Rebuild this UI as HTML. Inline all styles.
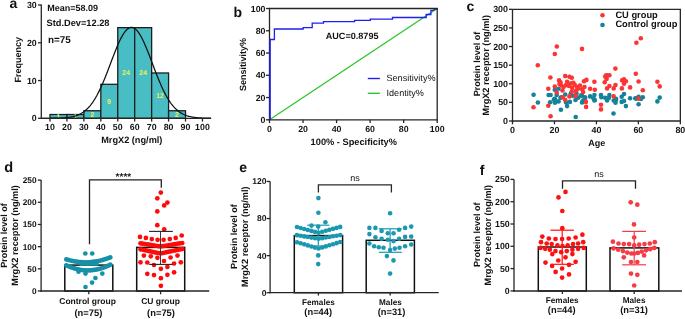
<!DOCTYPE html>
<html><head><meta charset="utf-8"><style>
html,body{margin:0;padding:0;background:#fff;}
body{width:685px;height:319px;overflow:hidden;}
svg{display:block;font-family:"Liberation Sans", sans-serif;text-rendering:geometricPrecision;filter:blur(0.3px);}
</style></head><body>
<svg width="685" height="319" viewBox="0 0 685 319">
<g filter="url(#nf)">
<defs><filter id="nf" x="0" y="0" width="1" height="1"><feOffset dx="0" dy="0"/></filter></defs>
<rect width="685" height="319" fill="#fff"/>
<rect x="50.00" y="114.52" width="16.94" height="3.78" fill="#48BEC4" stroke="#1e1e1e" stroke-width="1.3"/>
<rect x="66.94" y="114.52" width="16.94" height="3.78" fill="#48BEC4" stroke="#1e1e1e" stroke-width="1.3"/>
<rect x="83.88" y="110.75" width="16.94" height="7.55" fill="#48BEC4" stroke="#1e1e1e" stroke-width="1.3"/>
<rect x="100.82" y="84.31" width="16.94" height="33.99" fill="#48BEC4" stroke="#1e1e1e" stroke-width="1.3"/>
<rect x="117.76" y="27.65" width="16.94" height="90.65" fill="#48BEC4" stroke="#1e1e1e" stroke-width="1.3"/>
<rect x="134.70" y="27.65" width="16.94" height="90.65" fill="#48BEC4" stroke="#1e1e1e" stroke-width="1.3"/>
<rect x="151.64" y="72.98" width="16.94" height="45.32" fill="#48BEC4" stroke="#1e1e1e" stroke-width="1.3"/>
<rect x="168.58" y="110.75" width="16.94" height="7.55" fill="#48BEC4" stroke="#1e1e1e" stroke-width="1.3"/>
<text x="58.47" y="118.91" font-size="7" font-weight="bold" text-anchor="middle" fill="#F0F05A">1</text>
<text x="75.41" y="118.91" font-size="7" font-weight="bold" text-anchor="middle" fill="#F0F05A">1</text>
<text x="92.35" y="117.02" font-size="7" font-weight="bold" text-anchor="middle" fill="#F0F05A">2</text>
<text x="109.29" y="103.80" font-size="7" font-weight="bold" text-anchor="middle" fill="#F0F05A">9</text>
<text x="126.23" y="75.48" font-size="7" font-weight="bold" text-anchor="middle" fill="#F0F05A">24</text>
<text x="143.17" y="75.48" font-size="7" font-weight="bold" text-anchor="middle" fill="#F0F05A">24</text>
<text x="160.11" y="98.14" font-size="7" font-weight="bold" text-anchor="middle" fill="#F0F05A">12</text>
<text x="177.05" y="117.02" font-size="7" font-weight="bold" text-anchor="middle" fill="#F0F05A">2</text>
<polyline points="41.53,118.29 42.38,118.29 43.22,118.29 44.07,118.29 44.92,118.28 45.77,118.28 46.61,118.28 47.46,118.27 48.31,118.27 49.15,118.26 50.00,118.26 50.85,118.25 51.69,118.24 52.54,118.23 53.39,118.22 54.23,118.21 55.08,118.19 55.93,118.18 56.78,118.16 57.62,118.13 58.47,118.11 59.32,118.08 60.16,118.04 61.01,118.01 61.86,117.96 62.70,117.91 63.55,117.86 64.40,117.80 65.25,117.73 66.09,117.65 66.94,117.56 67.79,117.46 68.63,117.35 69.48,117.23 70.33,117.09 71.17,116.94 72.02,116.77 72.87,116.58 73.72,116.37 74.56,116.14 75.41,115.89 76.26,115.61 77.10,115.31 77.95,114.98 78.80,114.61 79.64,114.21 80.49,113.78 81.34,113.31 82.19,112.80 83.03,112.25 83.88,111.66 84.73,111.01 85.57,110.32 86.42,109.58 87.27,108.78 88.12,107.93 88.96,107.02 89.81,106.05 90.66,105.03 91.50,103.93 92.35,102.78 93.20,101.56 94.04,100.27 94.89,98.92 95.74,97.49 96.59,96.01 97.43,94.45 98.28,92.83 99.13,91.14 99.97,89.39 100.82,87.58 101.67,85.71 102.51,83.78 103.36,81.79 104.21,79.76 105.06,77.68 105.90,75.57 106.75,73.41 107.60,71.22 108.44,69.01 109.29,66.78 110.14,64.54 110.98,62.30 111.83,60.06 112.68,57.82 113.53,55.61 114.37,53.43 115.22,51.27 116.07,49.17 116.91,47.11 117.76,45.11 118.61,43.19 119.45,41.34 120.30,39.57 121.15,37.90 122.00,36.33 122.84,34.86 123.69,33.51 124.54,32.28 125.38,31.18 126.23,30.21 127.08,29.38 127.92,28.68 128.77,28.14 129.62,27.73 130.47,27.48 131.31,27.38 132.16,27.43 133.01,27.63 133.85,27.97 134.70,28.47 135.55,29.11 136.39,29.89 137.24,30.82 138.09,31.87 138.94,33.05 139.78,34.36 140.63,35.79 141.48,37.32 142.32,38.96 143.17,40.69 144.02,42.51 144.86,44.41 145.71,46.38 146.56,48.42 147.41,50.51 148.25,52.65 149.10,54.82 149.95,57.03 150.79,59.25 151.64,61.49 152.49,63.74 153.33,65.98 154.18,68.21 155.03,70.43 155.88,72.63 156.72,74.79 157.57,76.93 158.42,79.02 159.26,81.07 160.11,83.07 160.96,85.02 161.80,86.91 162.65,88.75 163.50,90.52 164.34,92.23 165.19,93.87 166.04,95.45 166.89,96.97 167.73,98.41 168.58,99.79 169.43,101.10 170.27,102.35 171.12,103.53 171.97,104.64 172.81,105.69 173.66,106.68 174.51,107.61 175.36,108.48 176.20,109.30 177.05,110.06 177.90,110.77 178.74,111.43 179.59,112.04 180.44,112.61 181.28,113.13 182.13,113.62 182.98,114.06 183.83,114.47 184.67,114.85 185.52,115.19 186.37,115.51 187.21,115.79 188.06,116.05 188.91,116.29 189.75,116.51 190.60,116.70 191.45,116.88 192.30,117.04 193.14,117.18 193.99,117.31 194.84,117.42 195.68,117.53 196.53,117.62 197.38,117.70 198.22,117.77 199.07,117.84 199.92,117.90 200.77,117.95 201.61,117.99 202.46,118.03 203.31,118.07 204.15,118.10 205.00,118.12 205.85,118.15 206.69,118.17 207.54,118.19 208.39,118.20 209.24,118.22 210.08,118.23 210.93,118.24" fill="none" stroke="#111" stroke-width="1.25"/>
<line x1="41.30" y1="4.60" x2="41.30" y2="118.95" stroke="#262626" stroke-width="1.3"/>
<line x1="40.65" y1="118.30" x2="211.20" y2="118.30" stroke="#262626" stroke-width="1.3"/>
<line x1="38.00" y1="118.30" x2="41.30" y2="118.30" stroke="#262626" stroke-width="1.3"/>
<text x="36.70" y="121.30" font-size="8.8" font-weight="bold" text-anchor="end" fill="#111">0</text>
<line x1="38.00" y1="80.53" x2="41.30" y2="80.53" stroke="#262626" stroke-width="1.3"/>
<text x="36.70" y="83.53" font-size="8.8" font-weight="bold" text-anchor="end" fill="#111">10</text>
<line x1="38.00" y1="42.76" x2="41.30" y2="42.76" stroke="#262626" stroke-width="1.3"/>
<text x="36.70" y="45.76" font-size="8.8" font-weight="bold" text-anchor="end" fill="#111">20</text>
<line x1="38.00" y1="4.99" x2="41.30" y2="4.99" stroke="#262626" stroke-width="1.3"/>
<text x="36.70" y="7.99" font-size="8.8" font-weight="bold" text-anchor="end" fill="#111">30</text>
<line x1="50.00" y1="118.30" x2="50.00" y2="121.60" stroke="#262626" stroke-width="1.3"/>
<text x="50.00" y="130.30" font-size="8.8" font-weight="bold" text-anchor="middle" fill="#111">10</text>
<line x1="66.94" y1="118.30" x2="66.94" y2="121.60" stroke="#262626" stroke-width="1.3"/>
<text x="66.94" y="130.30" font-size="8.8" font-weight="bold" text-anchor="middle" fill="#111">20</text>
<line x1="83.88" y1="118.30" x2="83.88" y2="121.60" stroke="#262626" stroke-width="1.3"/>
<text x="83.88" y="130.30" font-size="8.8" font-weight="bold" text-anchor="middle" fill="#111">30</text>
<line x1="100.82" y1="118.30" x2="100.82" y2="121.60" stroke="#262626" stroke-width="1.3"/>
<text x="100.82" y="130.30" font-size="8.8" font-weight="bold" text-anchor="middle" fill="#111">40</text>
<line x1="117.76" y1="118.30" x2="117.76" y2="121.60" stroke="#262626" stroke-width="1.3"/>
<text x="117.76" y="130.30" font-size="8.8" font-weight="bold" text-anchor="middle" fill="#111">50</text>
<line x1="134.70" y1="118.30" x2="134.70" y2="121.60" stroke="#262626" stroke-width="1.3"/>
<text x="134.70" y="130.30" font-size="8.8" font-weight="bold" text-anchor="middle" fill="#111">60</text>
<line x1="151.64" y1="118.30" x2="151.64" y2="121.60" stroke="#262626" stroke-width="1.3"/>
<text x="151.64" y="130.30" font-size="8.8" font-weight="bold" text-anchor="middle" fill="#111">70</text>
<line x1="168.58" y1="118.30" x2="168.58" y2="121.60" stroke="#262626" stroke-width="1.3"/>
<text x="168.58" y="130.30" font-size="8.8" font-weight="bold" text-anchor="middle" fill="#111">80</text>
<line x1="185.52" y1="118.30" x2="185.52" y2="121.60" stroke="#262626" stroke-width="1.3"/>
<text x="185.52" y="130.30" font-size="8.8" font-weight="bold" text-anchor="middle" fill="#111">90</text>
<line x1="202.46" y1="118.30" x2="202.46" y2="121.60" stroke="#262626" stroke-width="1.3"/>
<text x="202.46" y="130.30" font-size="8.8" font-weight="bold" text-anchor="middle" fill="#111">100</text>
<text x="47.30" y="10.70" font-size="9.0" font-weight="bold" text-anchor="start" fill="#111">Mean=58.09</text>
<text x="46.50" y="25.90" font-size="9.25" font-weight="bold" text-anchor="start" fill="#111">Std.Dev=12.28</text>
<text x="48.00" y="42.50" font-size="9.9" font-weight="bold" text-anchor="start" fill="#111">n=75</text>
<text x="21.00" y="59.70" font-size="9" font-weight="bold" text-anchor="middle" fill="#111" transform="rotate(-90 21.0 59.7)">Frequency</text>
<text x="131.80" y="143.20" font-size="9.2" font-weight="bold" text-anchor="middle" fill="#111">MrgX2 (ng/ml)</text>
<text x="9.50" y="8.00" font-size="14" font-weight="bold" text-anchor="start" fill="#111">a</text>
<text x="233.50" y="17.30" font-size="14" font-weight="bold" text-anchor="start" fill="#111">b</text>
<line x1="269.50" y1="119.80" x2="437.20" y2="8.50" stroke="#2CC52C" stroke-width="1.3"/>
<polyline points="269.90,119.80 269.90,39.50 274.40,39.50 274.40,29.00 303.10,29.00 303.10,27.60 312.20,27.60 312.20,23.20 323.50,23.20 323.50,21.60 354.60,21.60 354.60,20.30 370.30,20.30 370.30,19.10 392.50,19.10 392.50,17.50 426.20,17.50 426.20,14.50 430.90,14.50 430.90,10.40 433.00,10.40 437.20,8.50" fill="none" stroke="#1F1FF0" stroke-width="1.3"/>
<line x1="268.85" y1="119.80" x2="437.85" y2="119.80" stroke="#262626" stroke-width="1.3"/>
<line x1="269.50" y1="120.45" x2="269.50" y2="7.85" stroke="#262626" stroke-width="1.3"/>
<line x1="269.50" y1="8.50" x2="437.85" y2="8.50" stroke="#262626" stroke-width="1.3"/>
<line x1="437.20" y1="8.50" x2="437.20" y2="119.80" stroke="#262626" stroke-width="1.3"/>
<line x1="269.90" y1="119.80" x2="269.90" y2="39.50" stroke="#1F1FF0" stroke-width="1.4"/>
<line x1="266.00" y1="119.80" x2="269.50" y2="119.80" stroke="#262626" stroke-width="1.3"/>
<text x="265.50" y="122.80" font-size="8.8" font-weight="bold" text-anchor="end" fill="#111">0</text>
<line x1="269.50" y1="119.80" x2="269.50" y2="123.10" stroke="#262626" stroke-width="1.3"/>
<text x="269.50" y="132.40" font-size="8.8" font-weight="bold" text-anchor="middle" fill="#111">0</text>
<line x1="266.00" y1="97.54" x2="269.50" y2="97.54" stroke="#262626" stroke-width="1.3"/>
<text x="265.50" y="100.54" font-size="8.8" font-weight="bold" text-anchor="end" fill="#111">20</text>
<line x1="303.04" y1="119.80" x2="303.04" y2="123.10" stroke="#262626" stroke-width="1.3"/>
<text x="303.04" y="132.40" font-size="8.8" font-weight="bold" text-anchor="middle" fill="#111">20</text>
<line x1="266.00" y1="75.28" x2="269.50" y2="75.28" stroke="#262626" stroke-width="1.3"/>
<text x="265.50" y="78.28" font-size="8.8" font-weight="bold" text-anchor="end" fill="#111">40</text>
<line x1="336.58" y1="119.80" x2="336.58" y2="123.10" stroke="#262626" stroke-width="1.3"/>
<text x="336.58" y="132.40" font-size="8.8" font-weight="bold" text-anchor="middle" fill="#111">40</text>
<line x1="266.00" y1="53.02" x2="269.50" y2="53.02" stroke="#262626" stroke-width="1.3"/>
<text x="265.50" y="56.02" font-size="8.8" font-weight="bold" text-anchor="end" fill="#111">60</text>
<line x1="370.12" y1="119.80" x2="370.12" y2="123.10" stroke="#262626" stroke-width="1.3"/>
<text x="370.12" y="132.40" font-size="8.8" font-weight="bold" text-anchor="middle" fill="#111">60</text>
<line x1="266.00" y1="30.76" x2="269.50" y2="30.76" stroke="#262626" stroke-width="1.3"/>
<text x="265.50" y="33.76" font-size="8.8" font-weight="bold" text-anchor="end" fill="#111">80</text>
<line x1="403.66" y1="119.80" x2="403.66" y2="123.10" stroke="#262626" stroke-width="1.3"/>
<text x="403.66" y="132.40" font-size="8.8" font-weight="bold" text-anchor="middle" fill="#111">80</text>
<line x1="266.00" y1="8.50" x2="269.50" y2="8.50" stroke="#262626" stroke-width="1.3"/>
<text x="265.50" y="11.50" font-size="8.8" font-weight="bold" text-anchor="end" fill="#111">100</text>
<line x1="437.20" y1="119.80" x2="437.20" y2="123.10" stroke="#262626" stroke-width="1.3"/>
<text x="437.20" y="132.40" font-size="8.8" font-weight="bold" text-anchor="middle" fill="#111">100</text>
<text x="246.30" y="64.40" font-size="9" font-weight="bold" text-anchor="middle" fill="#111" transform="rotate(-90 246.3 64.4)">Sensitivity%</text>
<text x="353.80" y="145.00" font-size="9.25" font-weight="bold" text-anchor="middle" fill="#111">100% - Specificity%</text>
<text x="325.70" y="38.90" font-size="9.1" font-weight="bold" text-anchor="start" fill="#111">AUC=0.8795</text>
<line x1="367.80" y1="78.50" x2="379.90" y2="78.50" stroke="#1F1FF0" stroke-width="1.4"/>
<line x1="367.80" y1="93.30" x2="379.90" y2="93.30" stroke="#2CC52C" stroke-width="1.4"/>
<text x="386.50" y="81.00" font-size="9.1" font-weight="normal" text-anchor="start" fill="#111">Sensitivity%</text>
<text x="386.50" y="96.40" font-size="9.1" font-weight="normal" text-anchor="start" fill="#111">Identity%</text>
<text x="466.50" y="11.20" font-size="14" font-weight="bold" text-anchor="start" fill="#111">c</text>
<circle cx="533.60" cy="94.80" r="2.3" fill="#128399"/>
<circle cx="537.90" cy="102.50" r="2.3" fill="#128399"/>
<circle cx="548.60" cy="95.00" r="2.3" fill="#128399"/>
<circle cx="550.60" cy="95.00" r="2.3" fill="#128399"/>
<circle cx="550.10" cy="102.20" r="2.3" fill="#128399"/>
<circle cx="554.60" cy="100.00" r="2.3" fill="#128399"/>
<circle cx="555.10" cy="102.50" r="2.3" fill="#128399"/>
<circle cx="554.80" cy="89.80" r="2.3" fill="#128399"/>
<circle cx="554.80" cy="98.70" r="2.3" fill="#128399"/>
<circle cx="558.60" cy="88.80" r="2.3" fill="#128399"/>
<circle cx="556.70" cy="95.00" r="2.3" fill="#128399"/>
<circle cx="565.20" cy="94.50" r="2.3" fill="#128399"/>
<circle cx="560.50" cy="97.80" r="2.3" fill="#128399"/>
<circle cx="570.80" cy="93.50" r="2.3" fill="#128399"/>
<circle cx="576.50" cy="93.50" r="2.3" fill="#128399"/>
<circle cx="581.20" cy="95.40" r="2.3" fill="#128399"/>
<circle cx="585.00" cy="97.30" r="2.3" fill="#128399"/>
<circle cx="590.10" cy="96.40" r="2.3" fill="#128399"/>
<circle cx="594.40" cy="95.00" r="2.3" fill="#128399"/>
<circle cx="593.40" cy="98.20" r="2.3" fill="#128399"/>
<circle cx="553.90" cy="99.50" r="2.3" fill="#128399"/>
<circle cx="554.80" cy="102.40" r="2.3" fill="#128399"/>
<circle cx="558.60" cy="101.40" r="2.3" fill="#128399"/>
<circle cx="561.40" cy="97.20" r="2.3" fill="#128399"/>
<circle cx="566.10" cy="102.40" r="2.3" fill="#128399"/>
<circle cx="567.10" cy="106.10" r="2.3" fill="#128399"/>
<circle cx="569.90" cy="101.90" r="2.3" fill="#128399"/>
<circle cx="572.70" cy="95.80" r="2.3" fill="#128399"/>
<circle cx="575.50" cy="100.00" r="2.3" fill="#128399"/>
<circle cx="578.40" cy="97.60" r="2.3" fill="#128399"/>
<circle cx="582.10" cy="95.80" r="2.3" fill="#128399"/>
<circle cx="582.10" cy="102.40" r="2.3" fill="#128399"/>
<circle cx="583.10" cy="100.50" r="2.3" fill="#128399"/>
<circle cx="585.00" cy="98.60" r="2.3" fill="#128399"/>
<circle cx="594.40" cy="100.50" r="2.3" fill="#128399"/>
<circle cx="560.90" cy="109.70" r="2.3" fill="#128399"/>
<circle cx="575.70" cy="117.00" r="2.3" fill="#128399"/>
<circle cx="601.00" cy="95.00" r="2.3" fill="#128399"/>
<circle cx="601.40" cy="97.30" r="2.3" fill="#128399"/>
<circle cx="605.20" cy="97.80" r="2.3" fill="#128399"/>
<circle cx="609.40" cy="95.00" r="2.3" fill="#128399"/>
<circle cx="609.00" cy="97.80" r="2.3" fill="#128399"/>
<circle cx="616.00" cy="98.70" r="2.3" fill="#128399"/>
<circle cx="624.00" cy="94.00" r="2.3" fill="#128399"/>
<circle cx="621.70" cy="96.80" r="2.3" fill="#128399"/>
<circle cx="630.10" cy="98.20" r="2.3" fill="#128399"/>
<circle cx="635.30" cy="98.20" r="2.3" fill="#128399"/>
<circle cx="607.10" cy="100.50" r="2.3" fill="#128399"/>
<circle cx="613.70" cy="100.50" r="2.3" fill="#128399"/>
<circle cx="616.00" cy="100.00" r="2.3" fill="#128399"/>
<circle cx="615.50" cy="102.80" r="2.3" fill="#128399"/>
<circle cx="621.70" cy="101.90" r="2.3" fill="#128399"/>
<circle cx="624.00" cy="101.00" r="2.3" fill="#128399"/>
<circle cx="625.90" cy="106.10" r="2.3" fill="#128399"/>
<circle cx="638.60" cy="104.20" r="2.3" fill="#128399"/>
<circle cx="613.50" cy="113.50" r="2.3" fill="#128399"/>
<circle cx="638.60" cy="96.70" r="2.3" fill="#128399"/>
<circle cx="636.20" cy="98.60" r="2.3" fill="#128399"/>
<circle cx="642.80" cy="97.20" r="2.3" fill="#128399"/>
<circle cx="640.90" cy="99.00" r="2.3" fill="#128399"/>
<circle cx="659.70" cy="97.60" r="2.3" fill="#128399"/>
<circle cx="657.40" cy="101.40" r="2.3" fill="#128399"/>
<circle cx="594.80" cy="100.00" r="2.3" fill="#128399"/>
<circle cx="556.80" cy="46.50" r="2.3" fill="#FC3434"/>
<circle cx="554.80" cy="54.00" r="2.3" fill="#FC3434"/>
<circle cx="537.80" cy="65.30" r="2.3" fill="#FC3434"/>
<circle cx="582.00" cy="48.90" r="2.3" fill="#FC3434"/>
<circle cx="640.80" cy="38.30" r="2.3" fill="#FC3434"/>
<circle cx="636.40" cy="42.70" r="2.3" fill="#FC3434"/>
<circle cx="615.40" cy="68.60" r="2.3" fill="#FC3434"/>
<circle cx="550.40" cy="77.50" r="2.3" fill="#FC3434"/>
<circle cx="548.30" cy="88.80" r="2.3" fill="#FC3434"/>
<circle cx="554.80" cy="86.50" r="2.3" fill="#FC3434"/>
<circle cx="556.70" cy="92.60" r="2.3" fill="#FC3434"/>
<circle cx="533.50" cy="107.20" r="2.3" fill="#FC3434"/>
<circle cx="548.30" cy="105.80" r="2.3" fill="#FC3434"/>
<circle cx="550.60" cy="116.30" r="2.3" fill="#FC3434"/>
<circle cx="565.20" cy="76.10" r="2.3" fill="#FC3434"/>
<circle cx="569.40" cy="76.80" r="2.3" fill="#FC3434"/>
<circle cx="571.80" cy="77.70" r="2.3" fill="#FC3434"/>
<circle cx="559.10" cy="80.40" r="2.3" fill="#FC3434"/>
<circle cx="560.50" cy="82.20" r="2.3" fill="#FC3434"/>
<circle cx="559.50" cy="84.10" r="2.3" fill="#FC3434"/>
<circle cx="561.40" cy="85.50" r="2.3" fill="#FC3434"/>
<circle cx="567.10" cy="81.80" r="2.3" fill="#FC3434"/>
<circle cx="566.10" cy="85.10" r="2.3" fill="#FC3434"/>
<circle cx="569.00" cy="86.00" r="2.3" fill="#FC3434"/>
<circle cx="573.20" cy="82.70" r="2.3" fill="#FC3434"/>
<circle cx="574.60" cy="84.60" r="2.3" fill="#FC3434"/>
<circle cx="572.20" cy="87.90" r="2.3" fill="#FC3434"/>
<circle cx="577.00" cy="87.00" r="2.3" fill="#FC3434"/>
<circle cx="577.90" cy="88.80" r="2.3" fill="#FC3434"/>
<circle cx="584.00" cy="81.30" r="2.3" fill="#FC3434"/>
<circle cx="586.40" cy="79.90" r="2.3" fill="#FC3434"/>
<circle cx="584.50" cy="87.00" r="2.3" fill="#FC3434"/>
<circle cx="582.10" cy="89.30" r="2.3" fill="#FC3434"/>
<circle cx="583.10" cy="92.10" r="2.3" fill="#FC3434"/>
<circle cx="590.10" cy="88.80" r="2.3" fill="#FC3434"/>
<circle cx="594.40" cy="81.80" r="2.3" fill="#FC3434"/>
<circle cx="594.80" cy="89.80" r="2.3" fill="#FC3434"/>
<circle cx="571.80" cy="91.70" r="2.3" fill="#FC3434"/>
<circle cx="569.40" cy="96.40" r="2.3" fill="#FC3434"/>
<circle cx="575.50" cy="95.90" r="2.3" fill="#FC3434"/>
<circle cx="562.80" cy="97.30" r="2.3" fill="#FC3434"/>
<circle cx="565.20" cy="100.00" r="2.3" fill="#FC3434"/>
<circle cx="585.90" cy="101.90" r="2.3" fill="#FC3434"/>
<circle cx="586.10" cy="106.90" r="2.3" fill="#FC3434"/>
<circle cx="606.30" cy="75.20" r="2.3" fill="#FC3434"/>
<circle cx="607.50" cy="75.60" r="2.3" fill="#FC3434"/>
<circle cx="609.40" cy="75.20" r="2.3" fill="#FC3434"/>
<circle cx="605.20" cy="76.60" r="2.3" fill="#FC3434"/>
<circle cx="606.60" cy="78.90" r="2.3" fill="#FC3434"/>
<circle cx="604.70" cy="82.20" r="2.3" fill="#FC3434"/>
<circle cx="609.40" cy="86.00" r="2.3" fill="#FC3434"/>
<circle cx="607.10" cy="88.40" r="2.3" fill="#FC3434"/>
<circle cx="613.70" cy="88.40" r="2.3" fill="#FC3434"/>
<circle cx="615.50" cy="85.10" r="2.3" fill="#FC3434"/>
<circle cx="622.10" cy="80.40" r="2.3" fill="#FC3434"/>
<circle cx="624.00" cy="79.40" r="2.3" fill="#FC3434"/>
<circle cx="625.90" cy="81.30" r="2.3" fill="#FC3434"/>
<circle cx="624.00" cy="83.70" r="2.3" fill="#FC3434"/>
<circle cx="621.90" cy="88.40" r="2.3" fill="#FC3434"/>
<circle cx="630.10" cy="87.40" r="2.3" fill="#FC3434"/>
<circle cx="635.80" cy="73.80" r="2.3" fill="#FC3434"/>
<circle cx="638.60" cy="81.50" r="2.3" fill="#FC3434"/>
<circle cx="642.80" cy="90.20" r="2.3" fill="#FC3434"/>
<circle cx="657.40" cy="81.70" r="2.3" fill="#FC3434"/>
<circle cx="659.70" cy="86.40" r="2.3" fill="#FC3434"/>
<circle cx="613.70" cy="96.40" r="2.3" fill="#FC3434"/>
<circle cx="601.00" cy="104.70" r="2.3" fill="#FC3434"/>
<circle cx="601.00" cy="109.40" r="2.3" fill="#FC3434"/>
<circle cx="638.60" cy="98.60" r="2.3" fill="#FC3434"/>
<circle cx="563.50" cy="87.00" r="2.3" fill="#FC3434"/>
<circle cx="570.50" cy="83.50" r="2.3" fill="#FC3434"/>
<circle cx="576.00" cy="91.00" r="2.3" fill="#FC3434"/>
<circle cx="580.00" cy="85.50" r="2.3" fill="#FC3434"/>
<circle cx="562.50" cy="90.50" r="2.3" fill="#FC3434"/>
<line x1="511.85" y1="121.00" x2="680.99" y2="121.00" stroke="#262626" stroke-width="1.3"/>
<line x1="512.50" y1="121.65" x2="512.50" y2="9.31" stroke="#262626" stroke-width="1.3"/>
<line x1="512.50" y1="9.31" x2="680.99" y2="9.31" stroke="#262626" stroke-width="1.3"/>
<line x1="680.34" y1="9.31" x2="680.34" y2="121.00" stroke="#262626" stroke-width="1.3"/>
<line x1="509.00" y1="121.00" x2="512.50" y2="121.00" stroke="#262626" stroke-width="1.3"/>
<text x="508.00" y="124.00" font-size="8.9" font-weight="bold" text-anchor="end" fill="#111">0</text>
<line x1="509.00" y1="102.38" x2="512.50" y2="102.38" stroke="#262626" stroke-width="1.3"/>
<text x="508.00" y="105.38" font-size="8.9" font-weight="bold" text-anchor="end" fill="#111">50</text>
<line x1="509.00" y1="83.77" x2="512.50" y2="83.77" stroke="#262626" stroke-width="1.3"/>
<text x="508.00" y="86.77" font-size="8.9" font-weight="bold" text-anchor="end" fill="#111">100</text>
<line x1="509.00" y1="65.16" x2="512.50" y2="65.16" stroke="#262626" stroke-width="1.3"/>
<text x="508.00" y="68.16" font-size="8.9" font-weight="bold" text-anchor="end" fill="#111">150</text>
<line x1="509.00" y1="46.54" x2="512.50" y2="46.54" stroke="#262626" stroke-width="1.3"/>
<text x="508.00" y="49.54" font-size="8.9" font-weight="bold" text-anchor="end" fill="#111">200</text>
<line x1="509.00" y1="27.92" x2="512.50" y2="27.92" stroke="#262626" stroke-width="1.3"/>
<text x="508.00" y="30.92" font-size="8.9" font-weight="bold" text-anchor="end" fill="#111">250</text>
<line x1="509.00" y1="9.31" x2="512.50" y2="9.31" stroke="#262626" stroke-width="1.3"/>
<text x="508.00" y="12.31" font-size="8.9" font-weight="bold" text-anchor="end" fill="#111">300</text>
<line x1="512.50" y1="121.00" x2="512.50" y2="124.30" stroke="#262626" stroke-width="1.3"/>
<text x="512.50" y="133.10" font-size="8.9" font-weight="bold" text-anchor="middle" fill="#111">0</text>
<line x1="554.46" y1="121.00" x2="554.46" y2="124.30" stroke="#262626" stroke-width="1.3"/>
<text x="554.46" y="133.10" font-size="8.9" font-weight="bold" text-anchor="middle" fill="#111">20</text>
<line x1="596.42" y1="121.00" x2="596.42" y2="124.30" stroke="#262626" stroke-width="1.3"/>
<text x="596.42" y="133.10" font-size="8.9" font-weight="bold" text-anchor="middle" fill="#111">40</text>
<line x1="638.38" y1="121.00" x2="638.38" y2="124.30" stroke="#262626" stroke-width="1.3"/>
<text x="638.38" y="133.10" font-size="8.9" font-weight="bold" text-anchor="middle" fill="#111">60</text>
<line x1="680.34" y1="121.00" x2="680.34" y2="124.30" stroke="#262626" stroke-width="1.3"/>
<text x="680.34" y="133.10" font-size="8.9" font-weight="bold" text-anchor="middle" fill="#111">80</text>
<text x="479.60" y="64.00" font-size="9" font-weight="bold" text-anchor="middle" fill="#111" transform="rotate(-90 479.6 64.0)">Protein level of</text>
<text x="489.50" y="65.30" font-size="9.2" font-weight="bold" text-anchor="middle" fill="#111" transform="rotate(-90 489.5 65.3)">MrgX2 receptor (ng/ml)</text>
<text x="596.80" y="146.40" font-size="9" font-weight="bold" text-anchor="middle" fill="#111">Age</text>
<circle cx="602.50" cy="15.30" r="2.3" fill="#FC3434"/>
<circle cx="602.50" cy="25.00" r="2.3" fill="#128399"/>
<text x="615.40" y="18.00" font-size="9.3" font-weight="bold" text-anchor="start" fill="#111">CU group</text>
<text x="615.40" y="27.30" font-size="9.3" font-weight="bold" text-anchor="start" fill="#111">Control group</text>
<text x="4.30" y="171.50" font-size="14.6" font-weight="bold" text-anchor="start" fill="#111">d</text>
<rect x="64.8" y="265.1" width="48" height="25.90" fill="#fff" stroke="#111" stroke-width="1.5"/>
<rect x="136.7" y="247.4" width="48" height="43.60" fill="#fff" stroke="#111" stroke-width="1.5"/>
<polyline points="89.5,244.2 89.5,179.9 161.3,179.9 161.3,187.8" fill="none" stroke="#222" stroke-width="1.3"/>
<text x="123.40" y="179.70" font-size="10.0" font-weight="bold" text-anchor="middle" fill="#111">****</text>
<circle cx="85.30" cy="253.50" r="2.35" fill="#1791A7"/>
<circle cx="92.20" cy="253.50" r="2.35" fill="#1791A7"/>
<circle cx="78.50" cy="271.70" r="2.35" fill="#1791A7"/>
<circle cx="85.50" cy="273.60" r="2.35" fill="#1791A7"/>
<circle cx="102.30" cy="273.60" r="2.35" fill="#1791A7"/>
<circle cx="95.40" cy="278.00" r="2.35" fill="#1791A7"/>
<circle cx="92.10" cy="282.60" r="2.35" fill="#1791A7"/>
<circle cx="85.50" cy="287.00" r="2.35" fill="#1791A7"/>
<circle cx="66.30" cy="259.39" r="2.35" fill="#1791A7"/>
<circle cx="66.30" cy="265.30" r="2.35" fill="#1791A7"/>
<circle cx="68.30" cy="259.97" r="2.35" fill="#1791A7"/>
<circle cx="68.30" cy="266.22" r="2.35" fill="#1791A7"/>
<circle cx="70.30" cy="260.48" r="2.35" fill="#1791A7"/>
<circle cx="70.30" cy="267.04" r="2.35" fill="#1791A7"/>
<circle cx="72.30" cy="260.93" r="2.35" fill="#1791A7"/>
<circle cx="72.30" cy="267.77" r="2.35" fill="#1791A7"/>
<circle cx="74.30" cy="261.32" r="2.35" fill="#1791A7"/>
<circle cx="74.30" cy="268.42" r="2.35" fill="#1791A7"/>
<circle cx="76.30" cy="261.64" r="2.35" fill="#1791A7"/>
<circle cx="76.30" cy="268.97" r="2.35" fill="#1791A7"/>
<circle cx="78.30" cy="261.90" r="2.35" fill="#1791A7"/>
<circle cx="78.30" cy="269.44" r="2.35" fill="#1791A7"/>
<circle cx="80.30" cy="262.09" r="2.35" fill="#1791A7"/>
<circle cx="80.30" cy="269.81" r="2.35" fill="#1791A7"/>
<circle cx="82.30" cy="262.22" r="2.35" fill="#1791A7"/>
<circle cx="82.30" cy="270.10" r="2.35" fill="#1791A7"/>
<circle cx="84.30" cy="262.29" r="2.35" fill="#1791A7"/>
<circle cx="84.30" cy="270.29" r="2.35" fill="#1791A7"/>
<circle cx="86.30" cy="262.30" r="2.35" fill="#1791A7"/>
<circle cx="86.30" cy="270.40" r="2.35" fill="#1791A7"/>
<circle cx="88.30" cy="262.24" r="2.35" fill="#1791A7"/>
<circle cx="88.30" cy="270.42" r="2.35" fill="#1791A7"/>
<circle cx="90.30" cy="262.11" r="2.35" fill="#1791A7"/>
<circle cx="90.30" cy="270.34" r="2.35" fill="#1791A7"/>
<circle cx="92.30" cy="261.93" r="2.35" fill="#1791A7"/>
<circle cx="92.30" cy="270.18" r="2.35" fill="#1791A7"/>
<circle cx="94.30" cy="261.68" r="2.35" fill="#1791A7"/>
<circle cx="94.30" cy="269.93" r="2.35" fill="#1791A7"/>
<circle cx="96.30" cy="261.36" r="2.35" fill="#1791A7"/>
<circle cx="96.30" cy="269.59" r="2.35" fill="#1791A7"/>
<circle cx="98.30" cy="260.98" r="2.35" fill="#1791A7"/>
<circle cx="98.30" cy="269.16" r="2.35" fill="#1791A7"/>
<circle cx="100.30" cy="260.54" r="2.35" fill="#1791A7"/>
<circle cx="100.30" cy="268.63" r="2.35" fill="#1791A7"/>
<circle cx="102.30" cy="260.04" r="2.35" fill="#1791A7"/>
<circle cx="102.30" cy="268.02" r="2.35" fill="#1791A7"/>
<circle cx="104.30" cy="259.47" r="2.35" fill="#1791A7"/>
<circle cx="104.30" cy="267.32" r="2.35" fill="#1791A7"/>
<circle cx="106.30" cy="258.84" r="2.35" fill="#1791A7"/>
<circle cx="106.30" cy="266.53" r="2.35" fill="#1791A7"/>
<circle cx="108.30" cy="258.14" r="2.35" fill="#1791A7"/>
<circle cx="108.30" cy="265.65" r="2.35" fill="#1791A7"/>
<circle cx="110.30" cy="257.38" r="2.35" fill="#1791A7"/>
<circle cx="110.30" cy="264.69" r="2.35" fill="#1791A7"/>
<circle cx="81.50" cy="263.70" r="2.35" fill="#1791A7"/>
<circle cx="84.50" cy="263.70" r="2.35" fill="#1791A7"/>
<circle cx="87.50" cy="263.70" r="2.35" fill="#1791A7"/>
<circle cx="90.50" cy="263.70" r="2.35" fill="#1791A7"/>
<circle cx="93.50" cy="263.70" r="2.35" fill="#1791A7"/>
<circle cx="96.50" cy="263.70" r="2.35" fill="#1791A7"/>
<circle cx="160.80" cy="192.60" r="2.35" fill="#FF0A0A"/>
<circle cx="157.30" cy="198.30" r="2.35" fill="#FF0A0A"/>
<circle cx="167.40" cy="202.60" r="2.35" fill="#FF0A0A"/>
<circle cx="164.20" cy="205.40" r="2.35" fill="#FF0A0A"/>
<circle cx="157.30" cy="211.40" r="2.35" fill="#FF0A0A"/>
<circle cx="157.30" cy="225.20" r="2.35" fill="#FF0A0A"/>
<circle cx="164.20" cy="229.30" r="2.35" fill="#FF0A0A"/>
<circle cx="140.00" cy="236.90" r="2.35" fill="#FF0A0A"/>
<circle cx="145.90" cy="237.90" r="2.35" fill="#FF0A0A"/>
<circle cx="151.80" cy="239.10" r="2.35" fill="#FF0A0A"/>
<circle cx="157.60" cy="239.80" r="2.35" fill="#FF0A0A"/>
<circle cx="163.60" cy="239.80" r="2.35" fill="#FF0A0A"/>
<circle cx="169.80" cy="239.10" r="2.35" fill="#FF0A0A"/>
<circle cx="175.70" cy="237.90" r="2.35" fill="#FF0A0A"/>
<circle cx="181.70" cy="235.50" r="2.35" fill="#FF0A0A"/>
<circle cx="143.90" cy="255.60" r="2.35" fill="#FF0A0A"/>
<circle cx="150.80" cy="256.30" r="2.35" fill="#FF0A0A"/>
<circle cx="157.40" cy="257.80" r="2.35" fill="#FF0A0A"/>
<circle cx="140.50" cy="262.30" r="2.35" fill="#FF0A0A"/>
<circle cx="147.30" cy="262.50" r="2.35" fill="#FF0A0A"/>
<circle cx="154.00" cy="265.00" r="2.35" fill="#FF0A0A"/>
<circle cx="160.90" cy="268.80" r="2.35" fill="#FF0A0A"/>
<circle cx="147.30" cy="273.80" r="2.35" fill="#FF0A0A"/>
<circle cx="154.00" cy="275.10" r="2.35" fill="#FF0A0A"/>
<circle cx="160.90" cy="278.20" r="2.35" fill="#FF0A0A"/>
<circle cx="160.90" cy="285.80" r="2.35" fill="#FF0A0A"/>
<circle cx="170.60" cy="257.50" r="2.35" fill="#FF0A0A"/>
<circle cx="177.50" cy="255.60" r="2.35" fill="#FF0A0A"/>
<circle cx="164.00" cy="261.00" r="2.35" fill="#FF0A0A"/>
<circle cx="174.10" cy="263.50" r="2.35" fill="#FF0A0A"/>
<circle cx="180.80" cy="262.30" r="2.35" fill="#FF0A0A"/>
<circle cx="167.40" cy="266.90" r="2.35" fill="#FF0A0A"/>
<circle cx="167.40" cy="274.80" r="2.35" fill="#FF0A0A"/>
<circle cx="174.10" cy="272.30" r="2.35" fill="#FF0A0A"/>
<circle cx="140.50" cy="243.30" r="2.35" fill="#FF0A0A"/>
<circle cx="140.50" cy="249.30" r="2.35" fill="#FF0A0A"/>
<circle cx="142.70" cy="243.65" r="2.35" fill="#FF0A0A"/>
<circle cx="142.70" cy="249.76" r="2.35" fill="#FF0A0A"/>
<circle cx="144.90" cy="244.00" r="2.35" fill="#FF0A0A"/>
<circle cx="144.90" cy="250.22" r="2.35" fill="#FF0A0A"/>
<circle cx="147.10" cy="244.36" r="2.35" fill="#FF0A0A"/>
<circle cx="147.10" cy="250.69" r="2.35" fill="#FF0A0A"/>
<circle cx="149.30" cy="244.71" r="2.35" fill="#FF0A0A"/>
<circle cx="149.30" cy="251.15" r="2.35" fill="#FF0A0A"/>
<circle cx="151.50" cy="245.06" r="2.35" fill="#FF0A0A"/>
<circle cx="151.50" cy="251.61" r="2.35" fill="#FF0A0A"/>
<circle cx="153.70" cy="245.41" r="2.35" fill="#FF0A0A"/>
<circle cx="153.70" cy="252.07" r="2.35" fill="#FF0A0A"/>
<circle cx="155.90" cy="245.76" r="2.35" fill="#FF0A0A"/>
<circle cx="155.90" cy="252.53" r="2.35" fill="#FF0A0A"/>
<circle cx="158.10" cy="246.12" r="2.35" fill="#FF0A0A"/>
<circle cx="158.10" cy="253.00" r="2.35" fill="#FF0A0A"/>
<circle cx="160.30" cy="246.47" r="2.35" fill="#FF0A0A"/>
<circle cx="160.30" cy="253.46" r="2.35" fill="#FF0A0A"/>
<circle cx="162.50" cy="246.18" r="2.35" fill="#FF0A0A"/>
<circle cx="162.50" cy="253.08" r="2.35" fill="#FF0A0A"/>
<circle cx="164.70" cy="245.83" r="2.35" fill="#FF0A0A"/>
<circle cx="164.70" cy="252.62" r="2.35" fill="#FF0A0A"/>
<circle cx="166.90" cy="245.48" r="2.35" fill="#FF0A0A"/>
<circle cx="166.90" cy="252.16" r="2.35" fill="#FF0A0A"/>
<circle cx="169.10" cy="245.12" r="2.35" fill="#FF0A0A"/>
<circle cx="169.10" cy="251.69" r="2.35" fill="#FF0A0A"/>
<circle cx="171.30" cy="244.77" r="2.35" fill="#FF0A0A"/>
<circle cx="171.30" cy="251.23" r="2.35" fill="#FF0A0A"/>
<circle cx="173.50" cy="244.42" r="2.35" fill="#FF0A0A"/>
<circle cx="173.50" cy="250.77" r="2.35" fill="#FF0A0A"/>
<circle cx="175.70" cy="244.07" r="2.35" fill="#FF0A0A"/>
<circle cx="175.70" cy="250.31" r="2.35" fill="#FF0A0A"/>
<circle cx="177.90" cy="243.72" r="2.35" fill="#FF0A0A"/>
<circle cx="177.90" cy="249.85" r="2.35" fill="#FF0A0A"/>
<circle cx="180.10" cy="243.36" r="2.35" fill="#FF0A0A"/>
<circle cx="180.10" cy="249.38" r="2.35" fill="#FF0A0A"/>
<circle cx="182.30" cy="243.01" r="2.35" fill="#FF0A0A"/>
<circle cx="182.30" cy="248.92" r="2.35" fill="#FF0A0A"/>
<line x1="160.50" y1="231.20" x2="160.50" y2="264.50" stroke="#3a3a3a" stroke-width="1.0"/>
<line x1="149.10" y1="231.40" x2="172.80" y2="231.40" stroke="#222" stroke-width="1.1"/>
<line x1="149.10" y1="264.40" x2="172.80" y2="264.40" stroke="#222" stroke-width="1.1"/>
<line x1="41.10" y1="180.10" x2="41.10" y2="291.65" stroke="#262626" stroke-width="1.3"/>
<line x1="40.45" y1="291.00" x2="209.20" y2="291.00" stroke="#262626" stroke-width="1.3"/>
<line x1="37.80" y1="291.00" x2="41.10" y2="291.00" stroke="#262626" stroke-width="1.3"/>
<text x="36.60" y="293.90" font-size="8.3" font-weight="bold" text-anchor="end" fill="#111">0</text>
<line x1="37.80" y1="268.82" x2="41.10" y2="268.82" stroke="#262626" stroke-width="1.3"/>
<text x="36.60" y="271.72" font-size="8.3" font-weight="bold" text-anchor="end" fill="#111">50</text>
<line x1="37.80" y1="246.65" x2="41.10" y2="246.65" stroke="#262626" stroke-width="1.3"/>
<text x="36.60" y="249.55" font-size="8.3" font-weight="bold" text-anchor="end" fill="#111">100</text>
<line x1="37.80" y1="224.47" x2="41.10" y2="224.47" stroke="#262626" stroke-width="1.3"/>
<text x="36.60" y="227.38" font-size="8.3" font-weight="bold" text-anchor="end" fill="#111">150</text>
<line x1="37.80" y1="202.30" x2="41.10" y2="202.30" stroke="#262626" stroke-width="1.3"/>
<text x="36.60" y="205.20" font-size="8.3" font-weight="bold" text-anchor="end" fill="#111">200</text>
<line x1="37.80" y1="180.12" x2="41.10" y2="180.12" stroke="#262626" stroke-width="1.3"/>
<text x="36.60" y="183.03" font-size="8.3" font-weight="bold" text-anchor="end" fill="#111">250</text>
<line x1="88.80" y1="291.00" x2="88.80" y2="294.30" stroke="#262626" stroke-width="1.3"/>
<line x1="160.60" y1="291.00" x2="160.60" y2="294.30" stroke="#262626" stroke-width="1.3"/>
<text x="87.60" y="304.00" font-size="8.5" font-weight="bold" text-anchor="middle" fill="#111">Control group</text>
<text x="88.40" y="315.60" font-size="9.4" font-weight="bold" text-anchor="middle" fill="#111">(n=75)</text>
<text x="160.60" y="304.00" font-size="8.5" font-weight="bold" text-anchor="middle" fill="#111">CU group</text>
<text x="161.00" y="315.60" font-size="9.4" font-weight="bold" text-anchor="middle" fill="#111">(n=75)</text>
<text x="7.20" y="235.60" font-size="9" font-weight="bold" text-anchor="middle" fill="#111" transform="rotate(-90 7.2 235.6)">Protein level of</text>
<text x="18.20" y="235.40" font-size="9.2" font-weight="bold" text-anchor="middle" fill="#111" transform="rotate(-90 18.2 235.4)">MrgX2 receptor (ng/ml)</text>
<text x="239.20" y="172.40" font-size="14" font-weight="bold" text-anchor="start" fill="#111">e</text>
<rect x="294.3" y="235.6" width="48.3" height="57.10" fill="#fff" stroke="#111" stroke-width="1.5"/>
<rect x="366.2" y="240.3" width="48.2" height="52.40" fill="#fff" stroke="#111" stroke-width="1.5"/>
<polyline points="318.4,192.6 318.4,184.8 391.4,184.8 391.4,192.6" fill="none" stroke="#2a2a2a" stroke-width="1.3"/>
<text x="355.00" y="181.20" font-size="9" font-weight="normal" text-anchor="middle" fill="#111">ns</text>
<circle cx="318.40" cy="198.10" r="2.3" fill="#1A98B0"/>
<circle cx="318.40" cy="212.70" r="2.3" fill="#1A98B0"/>
<circle cx="325.40" cy="222.20" r="2.3" fill="#1A98B0"/>
<circle cx="311.50" cy="225.60" r="2.3" fill="#1A98B0"/>
<circle cx="318.20" cy="226.60" r="2.3" fill="#1A98B0"/>
<circle cx="318.20" cy="255.40" r="2.3" fill="#1A98B0"/>
<circle cx="318.20" cy="264.10" r="2.3" fill="#1A98B0"/>
<circle cx="297.00" cy="227.02" r="2.3" fill="#1A98B0"/>
<circle cx="300.60" cy="227.99" r="2.3" fill="#1A98B0"/>
<circle cx="304.20" cy="228.97" r="2.3" fill="#1A98B0"/>
<circle cx="307.80" cy="229.94" r="2.3" fill="#1A98B0"/>
<circle cx="311.40" cy="230.91" r="2.3" fill="#1A98B0"/>
<circle cx="315.00" cy="231.88" r="2.3" fill="#1A98B0"/>
<circle cx="318.60" cy="232.75" r="2.3" fill="#1A98B0"/>
<circle cx="322.20" cy="231.77" r="2.3" fill="#1A98B0"/>
<circle cx="325.80" cy="230.80" r="2.3" fill="#1A98B0"/>
<circle cx="329.40" cy="229.83" r="2.3" fill="#1A98B0"/>
<circle cx="333.00" cy="228.86" r="2.3" fill="#1A98B0"/>
<circle cx="336.60" cy="227.89" r="2.3" fill="#1A98B0"/>
<circle cx="340.20" cy="226.91" r="2.3" fill="#1A98B0"/>
<circle cx="297.00" cy="235.16" r="2.3" fill="#1A98B0"/>
<circle cx="300.60" cy="235.77" r="2.3" fill="#1A98B0"/>
<circle cx="304.20" cy="236.39" r="2.3" fill="#1A98B0"/>
<circle cx="307.80" cy="237.00" r="2.3" fill="#1A98B0"/>
<circle cx="311.40" cy="237.61" r="2.3" fill="#1A98B0"/>
<circle cx="315.00" cy="238.22" r="2.3" fill="#1A98B0"/>
<circle cx="318.60" cy="238.77" r="2.3" fill="#1A98B0"/>
<circle cx="322.20" cy="238.15" r="2.3" fill="#1A98B0"/>
<circle cx="325.80" cy="237.54" r="2.3" fill="#1A98B0"/>
<circle cx="329.40" cy="236.93" r="2.3" fill="#1A98B0"/>
<circle cx="333.00" cy="236.32" r="2.3" fill="#1A98B0"/>
<circle cx="336.60" cy="235.71" r="2.3" fill="#1A98B0"/>
<circle cx="340.20" cy="235.09" r="2.3" fill="#1A98B0"/>
<circle cx="297.00" cy="242.18" r="2.3" fill="#1A98B0"/>
<circle cx="300.60" cy="243.26" r="2.3" fill="#1A98B0"/>
<circle cx="304.20" cy="244.34" r="2.3" fill="#1A98B0"/>
<circle cx="307.80" cy="245.42" r="2.3" fill="#1A98B0"/>
<circle cx="311.40" cy="246.50" r="2.3" fill="#1A98B0"/>
<circle cx="315.00" cy="247.58" r="2.3" fill="#1A98B0"/>
<circle cx="318.60" cy="248.54" r="2.3" fill="#1A98B0"/>
<circle cx="322.20" cy="247.46" r="2.3" fill="#1A98B0"/>
<circle cx="325.80" cy="246.38" r="2.3" fill="#1A98B0"/>
<circle cx="329.40" cy="245.30" r="2.3" fill="#1A98B0"/>
<circle cx="333.00" cy="244.22" r="2.3" fill="#1A98B0"/>
<circle cx="336.60" cy="243.14" r="2.3" fill="#1A98B0"/>
<circle cx="340.20" cy="242.06" r="2.3" fill="#1A98B0"/>
<circle cx="369.40" cy="227.90" r="2.3" fill="#1A98B0"/>
<circle cx="375.40" cy="227.90" r="2.3" fill="#1A98B0"/>
<circle cx="381.60" cy="230.90" r="2.3" fill="#1A98B0"/>
<circle cx="387.80" cy="233.20" r="2.3" fill="#1A98B0"/>
<circle cx="393.50" cy="233.20" r="2.3" fill="#1A98B0"/>
<circle cx="399.10" cy="229.80" r="2.3" fill="#1A98B0"/>
<circle cx="405.10" cy="227.90" r="2.3" fill="#1A98B0"/>
<circle cx="411.20" cy="226.60" r="2.3" fill="#1A98B0"/>
<circle cx="369.40" cy="234.10" r="2.3" fill="#1A98B0"/>
<circle cx="375.40" cy="237.30" r="2.3" fill="#1A98B0"/>
<circle cx="381.60" cy="238.80" r="2.3" fill="#1A98B0"/>
<circle cx="387.80" cy="239.70" r="2.3" fill="#1A98B0"/>
<circle cx="393.50" cy="241.10" r="2.3" fill="#1A98B0"/>
<circle cx="399.10" cy="238.80" r="2.3" fill="#1A98B0"/>
<circle cx="405.10" cy="236.90" r="2.3" fill="#1A98B0"/>
<circle cx="411.20" cy="236.60" r="2.3" fill="#1A98B0"/>
<circle cx="369.40" cy="243.50" r="2.3" fill="#1A98B0"/>
<circle cx="374.10" cy="246.30" r="2.3" fill="#1A98B0"/>
<circle cx="378.80" cy="247.30" r="2.3" fill="#1A98B0"/>
<circle cx="383.50" cy="247.80" r="2.3" fill="#1A98B0"/>
<circle cx="390.10" cy="250.10" r="2.3" fill="#1A98B0"/>
<circle cx="394.80" cy="248.60" r="2.3" fill="#1A98B0"/>
<circle cx="399.50" cy="247.80" r="2.3" fill="#1A98B0"/>
<circle cx="405.10" cy="246.30" r="2.3" fill="#1A98B0"/>
<circle cx="411.20" cy="244.50" r="2.3" fill="#1A98B0"/>
<circle cx="386.90" cy="256.10" r="2.3" fill="#1A98B0"/>
<circle cx="393.50" cy="260.40" r="2.3" fill="#1A98B0"/>
<circle cx="390.10" cy="273.60" r="2.3" fill="#1A98B0"/>
<circle cx="390.10" cy="213.30" r="2.3" fill="#1A98B0"/>
<line x1="318.30" y1="225.20" x2="318.30" y2="246.00" stroke="#1A98B0" stroke-width="1.2"/>
<line x1="307.20" y1="225.20" x2="329.40" y2="225.20" stroke="#1A98B0" stroke-width="1.2"/>
<line x1="307.20" y1="246.00" x2="329.40" y2="246.00" stroke="#1A98B0" stroke-width="1.2"/>
<line x1="390.10" y1="228.80" x2="390.10" y2="252.30" stroke="#1A98B0" stroke-width="1.2"/>
<line x1="378.80" y1="228.80" x2="401.80" y2="228.80" stroke="#1A98B0" stroke-width="1.2"/>
<line x1="378.80" y1="252.30" x2="401.80" y2="252.30" stroke="#1A98B0" stroke-width="1.2"/>
<line x1="270.10" y1="181.46" x2="270.10" y2="293.35" stroke="#262626" stroke-width="1.3"/>
<line x1="269.45" y1="292.70" x2="438.70" y2="292.70" stroke="#262626" stroke-width="1.3"/>
<line x1="266.60" y1="292.70" x2="270.10" y2="292.70" stroke="#262626" stroke-width="1.3"/>
<text x="266.50" y="295.60" font-size="8.5" font-weight="bold" text-anchor="end" fill="#111">0</text>
<line x1="266.60" y1="255.62" x2="270.10" y2="255.62" stroke="#262626" stroke-width="1.3"/>
<text x="266.50" y="258.52" font-size="8.5" font-weight="bold" text-anchor="end" fill="#111">40</text>
<line x1="266.60" y1="218.54" x2="270.10" y2="218.54" stroke="#262626" stroke-width="1.3"/>
<text x="266.50" y="221.44" font-size="8.5" font-weight="bold" text-anchor="end" fill="#111">80</text>
<line x1="266.60" y1="181.46" x2="270.10" y2="181.46" stroke="#262626" stroke-width="1.3"/>
<text x="266.50" y="184.36" font-size="8.5" font-weight="bold" text-anchor="end" fill="#111">120</text>
<line x1="318.40" y1="292.70" x2="318.40" y2="295.60" stroke="#262626" stroke-width="1.3"/>
<line x1="390.20" y1="292.70" x2="390.20" y2="295.60" stroke="#262626" stroke-width="1.3"/>
<text x="318.40" y="304.90" font-size="8.2" font-weight="bold" text-anchor="middle" fill="#111">Females</text>
<text x="318.20" y="314.60" font-size="9.3" font-weight="bold" text-anchor="middle" fill="#111">(n=44)</text>
<text x="390.40" y="304.90" font-size="8.2" font-weight="bold" text-anchor="middle" fill="#111">Males</text>
<text x="391.50" y="314.60" font-size="9.3" font-weight="bold" text-anchor="middle" fill="#111">(n=31)</text>
<text x="236.90" y="236.60" font-size="9" font-weight="bold" text-anchor="middle" fill="#111" transform="rotate(-90 236.9 236.6)">Protein level of</text>
<text x="247.60" y="236.70" font-size="9.2" font-weight="bold" text-anchor="middle" fill="#111" transform="rotate(-90 247.6 236.7)">MrgX2 receptor (ng/ml)</text>
<text x="479.70" y="174.90" font-size="14" font-weight="bold" text-anchor="start" fill="#111">f</text>
<rect x="538.3" y="247.0" width="48" height="44.00" fill="#fff" stroke="#111" stroke-width="1.5"/>
<rect x="610.0" y="247.9" width="48.8" height="43.10" fill="#fff" stroke="#111" stroke-width="1.5"/>
<polyline points="562.5,188.7 562.5,180.8 635.5,180.8 635.5,188.7" fill="none" stroke="#222" stroke-width="1.3"/>
<text x="599.00" y="177.20" font-size="9" font-weight="normal" text-anchor="middle" fill="#111">ns</text>
<circle cx="565.50" cy="191.90" r="2.35" fill="#FF1010"/>
<circle cx="558.50" cy="197.40" r="2.35" fill="#FF1010"/>
<circle cx="562.30" cy="211.00" r="2.35" fill="#FF1010"/>
<circle cx="562.30" cy="228.20" r="2.35" fill="#FF1010"/>
<circle cx="542.30" cy="236.60" r="2.35" fill="#FF1010"/>
<circle cx="548.90" cy="238.50" r="2.35" fill="#FF1010"/>
<circle cx="555.50" cy="239.00" r="2.35" fill="#FF1010"/>
<circle cx="562.10" cy="239.00" r="2.35" fill="#FF1010"/>
<circle cx="568.70" cy="238.50" r="2.35" fill="#FF1010"/>
<circle cx="575.60" cy="237.50" r="2.35" fill="#FF1010"/>
<circle cx="582.40" cy="234.70" r="2.35" fill="#FF1010"/>
<circle cx="541.00" cy="242.20" r="2.35" fill="#FF1010"/>
<circle cx="546.70" cy="243.50" r="2.35" fill="#FF1010"/>
<circle cx="551.70" cy="244.10" r="2.35" fill="#FF1010"/>
<circle cx="557.40" cy="245.40" r="2.35" fill="#FF1010"/>
<circle cx="562.50" cy="246.00" r="2.35" fill="#FF1010"/>
<circle cx="567.70" cy="245.40" r="2.35" fill="#FF1010"/>
<circle cx="573.00" cy="244.10" r="2.35" fill="#FF1010"/>
<circle cx="578.10" cy="243.50" r="2.35" fill="#FF1010"/>
<circle cx="583.20" cy="242.20" r="2.35" fill="#FF1010"/>
<circle cx="540.50" cy="247.90" r="2.35" fill="#FF1010"/>
<circle cx="545.20" cy="248.80" r="2.35" fill="#FF1010"/>
<circle cx="549.90" cy="249.70" r="2.35" fill="#FF1010"/>
<circle cx="555.50" cy="251.10" r="2.35" fill="#FF1010"/>
<circle cx="561.20" cy="252.20" r="2.35" fill="#FF1010"/>
<circle cx="566.80" cy="251.10" r="2.35" fill="#FF1010"/>
<circle cx="572.40" cy="249.70" r="2.35" fill="#FF1010"/>
<circle cx="578.10" cy="248.80" r="2.35" fill="#FF1010"/>
<circle cx="583.70" cy="247.90" r="2.35" fill="#FF1010"/>
<circle cx="552.30" cy="254.10" r="2.35" fill="#FF1010"/>
<circle cx="572.40" cy="254.10" r="2.35" fill="#FF1010"/>
<circle cx="565.50" cy="257.30" r="2.35" fill="#FF1010"/>
<circle cx="558.30" cy="260.50" r="2.35" fill="#FF1010"/>
<circle cx="545.50" cy="262.60" r="2.35" fill="#FF1010"/>
<circle cx="575.60" cy="261.80" r="2.35" fill="#FF1010"/>
<circle cx="552.10" cy="266.00" r="2.35" fill="#FF1010"/>
<circle cx="569.00" cy="264.80" r="2.35" fill="#FF1010"/>
<circle cx="562.10" cy="268.50" r="2.35" fill="#FF1010"/>
<circle cx="555.60" cy="271.90" r="2.35" fill="#FF1010"/>
<circle cx="569.00" cy="274.40" r="2.35" fill="#FF1010"/>
<circle cx="562.10" cy="277.60" r="2.35" fill="#FF1010"/>
<circle cx="630.70" cy="202.30" r="2.35" fill="#F53C46"/>
<circle cx="637.30" cy="204.70" r="2.35" fill="#F53C46"/>
<circle cx="634.00" cy="224.40" r="2.35" fill="#F53C46"/>
<circle cx="634.20" cy="237.50" r="2.35" fill="#F53C46"/>
<circle cx="612.90" cy="241.70" r="2.35" fill="#F53C46"/>
<circle cx="618.50" cy="243.50" r="2.35" fill="#F53C46"/>
<circle cx="623.80" cy="244.10" r="2.35" fill="#F53C46"/>
<circle cx="629.10" cy="244.10" r="2.35" fill="#F53C46"/>
<circle cx="634.20" cy="245.40" r="2.35" fill="#F53C46"/>
<circle cx="639.20" cy="244.70" r="2.35" fill="#F53C46"/>
<circle cx="644.50" cy="244.10" r="2.35" fill="#F53C46"/>
<circle cx="649.80" cy="243.50" r="2.35" fill="#F53C46"/>
<circle cx="654.80" cy="242.20" r="2.35" fill="#F53C46"/>
<circle cx="613.50" cy="248.40" r="2.35" fill="#F53C46"/>
<circle cx="618.20" cy="249.70" r="2.35" fill="#F53C46"/>
<circle cx="622.90" cy="251.10" r="2.35" fill="#F53C46"/>
<circle cx="627.20" cy="252.60" r="2.35" fill="#F53C46"/>
<circle cx="631.30" cy="253.50" r="2.35" fill="#F53C46"/>
<circle cx="634.20" cy="253.50" r="2.35" fill="#F53C46"/>
<circle cx="637.90" cy="252.90" r="2.35" fill="#F53C46"/>
<circle cx="641.70" cy="251.60" r="2.35" fill="#F53C46"/>
<circle cx="646.00" cy="250.30" r="2.35" fill="#F53C46"/>
<circle cx="650.10" cy="249.20" r="2.35" fill="#F53C46"/>
<circle cx="654.30" cy="247.90" r="2.35" fill="#F53C46"/>
<circle cx="623.80" cy="257.30" r="2.35" fill="#F53C46"/>
<circle cx="644.10" cy="255.40" r="2.35" fill="#F53C46"/>
<circle cx="631.00" cy="262.00" r="2.35" fill="#F53C46"/>
<circle cx="637.30" cy="262.00" r="2.35" fill="#F53C46"/>
<circle cx="631.00" cy="273.60" r="2.35" fill="#F53C46"/>
<circle cx="637.30" cy="274.80" r="2.35" fill="#F53C46"/>
<circle cx="634.20" cy="285.50" r="2.35" fill="#F53C46"/>
<line x1="562.20" y1="230.20" x2="562.20" y2="264.30" stroke="#FF1010" stroke-width="1.2"/>
<line x1="550.50" y1="230.20" x2="573.90" y2="230.20" stroke="#FF1010" stroke-width="1.2"/>
<line x1="550.50" y1="264.30" x2="573.90" y2="264.30" stroke="#FF1010" stroke-width="1.2"/>
<line x1="634.20" y1="231.40" x2="634.20" y2="264.80" stroke="#F53C46" stroke-width="1.2"/>
<line x1="622.20" y1="231.40" x2="646.00" y2="231.40" stroke="#F53C46" stroke-width="1.2"/>
<line x1="622.20" y1="264.80" x2="646.00" y2="264.80" stroke="#F53C46" stroke-width="1.2"/>
<line x1="514.00" y1="179.40" x2="514.00" y2="291.65" stroke="#262626" stroke-width="1.3"/>
<line x1="513.35" y1="291.00" x2="682.00" y2="291.00" stroke="#262626" stroke-width="1.3"/>
<line x1="510.50" y1="290.90" x2="514.00" y2="290.90" stroke="#262626" stroke-width="1.3"/>
<text x="509.70" y="293.80" font-size="8.8" font-weight="bold" text-anchor="end" fill="#111">0</text>
<line x1="510.50" y1="268.60" x2="514.00" y2="268.60" stroke="#262626" stroke-width="1.3"/>
<text x="509.70" y="271.50" font-size="8.8" font-weight="bold" text-anchor="end" fill="#111">50</text>
<line x1="510.50" y1="246.30" x2="514.00" y2="246.30" stroke="#262626" stroke-width="1.3"/>
<text x="509.70" y="249.20" font-size="8.8" font-weight="bold" text-anchor="end" fill="#111">100</text>
<line x1="510.50" y1="224.00" x2="514.00" y2="224.00" stroke="#262626" stroke-width="1.3"/>
<text x="509.70" y="226.90" font-size="8.8" font-weight="bold" text-anchor="end" fill="#111">150</text>
<line x1="510.50" y1="201.70" x2="514.00" y2="201.70" stroke="#262626" stroke-width="1.3"/>
<text x="509.70" y="204.60" font-size="8.8" font-weight="bold" text-anchor="end" fill="#111">200</text>
<line x1="510.50" y1="179.40" x2="514.00" y2="179.40" stroke="#262626" stroke-width="1.3"/>
<text x="509.70" y="182.30" font-size="8.8" font-weight="bold" text-anchor="end" fill="#111">250</text>
<line x1="562.40" y1="291.00" x2="562.40" y2="294.00" stroke="#262626" stroke-width="1.3"/>
<line x1="634.20" y1="291.00" x2="634.20" y2="294.00" stroke="#262626" stroke-width="1.3"/>
<text x="562.20" y="303.10" font-size="8.2" font-weight="bold" text-anchor="middle" fill="#111">Females</text>
<text x="561.70" y="313.40" font-size="9.3" font-weight="bold" text-anchor="middle" fill="#111">(n=44)</text>
<text x="634.10" y="303.10" font-size="8.2" font-weight="bold" text-anchor="middle" fill="#111">Males</text>
<text x="634.10" y="313.40" font-size="9.3" font-weight="bold" text-anchor="middle" fill="#111">(n=31)</text>
<text x="480.10" y="234.85" font-size="9" font-weight="bold" text-anchor="middle" fill="#111" transform="rotate(-90 480.1 234.85)">Protein level of</text>
<text x="491.40" y="235.10" font-size="9.2" font-weight="bold" text-anchor="middle" fill="#111" transform="rotate(-90 491.4 235.1)">MrgX2 receptor (ng/ml)</text>
</g>
</svg>
</body></html>
